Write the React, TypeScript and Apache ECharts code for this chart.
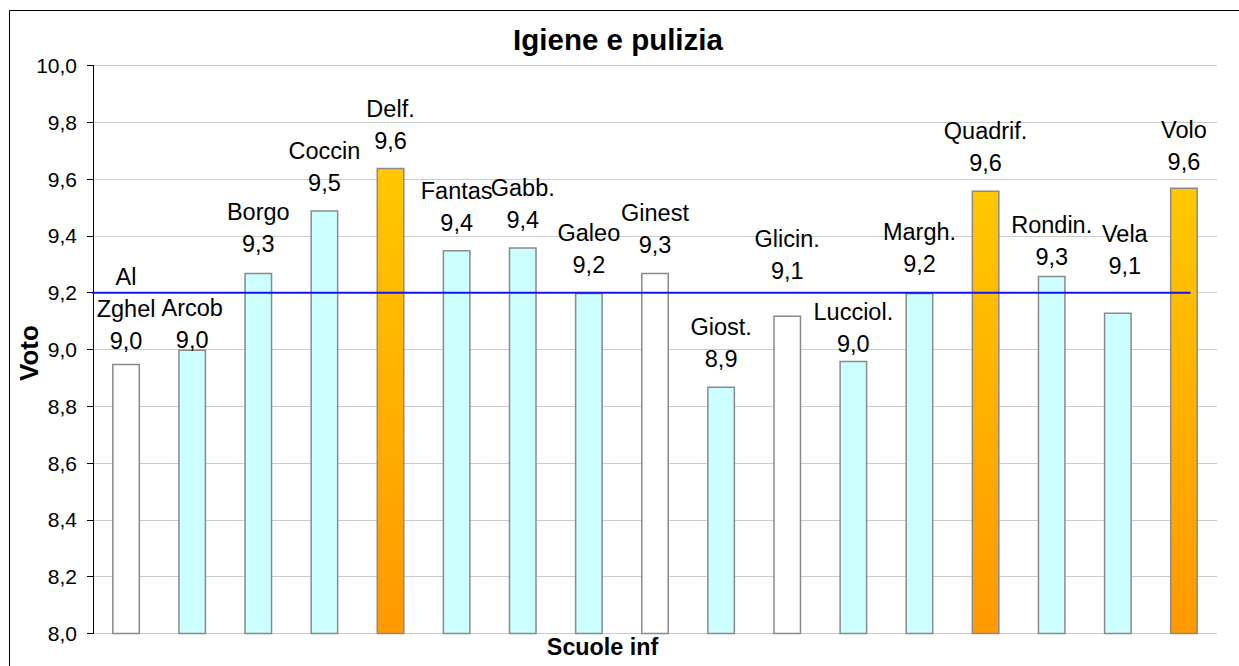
import React, { useEffect, useRef } from 'react';
import * as echarts from 'echarts';

// ---------- data ----------
const CATEGORIES = ['Al Zghel', 'Arcob', 'Borgo', 'Coccin', 'Delf.', 'Fantas', 'Gabb.', 'Galeo', 'Ginest', 'Giost.', 'Glicin.', 'Lucciol.', 'Margh.', 'Quadrif.', 'Rondin.', 'Vela', 'Volo'];
const VALUES = [8.95, 9.0, 9.27, 9.49, 9.64, 9.35, 9.36, 9.2, 9.27, 8.87, 9.12, 8.96, 9.2, 9.56, 9.26, 9.13, 9.57];
const BAR_GROUP = ['white', 'cyan', 'cyan', 'cyan', 'orange', 'cyan', 'cyan', 'cyan', 'white', 'cyan', 'white', 'cyan', 'cyan', 'orange', 'cyan', 'cyan', 'orange'];
const AVERAGE = 9.2;
const AVERAGE_SPAN = [-0.59, 16.1];
const Y_MIN = 8;
const Y_MAX = 10;
const Y_STEP = 0.2;

const TITLE = 'Igiene e pulizia';
const X_NAME = 'Scuole inf';
const Y_NAME = 'Voto';

// ---------- style ----------
const FONT = '"Liberation Sans", Arial, sans-serif';
const LABEL_DISTANCE = [7, -6, 13, 11, 11, 11.5, 11.7, 11.3, 12, 11.3, 28, 1.3, 12.3, 11.4, 2.5, 31, 10];
const LABEL_SHIFT_X = [0, 0, 0, 0, 0, 0, 0, 0, 0, 0, 0, 0, 0, 0, 0, 7, 0];

function fmt(v: number): string {
  return (Math.round(v * 10 + 1e-6) / 10).toFixed(1).replace('.', ',');
}

export default function App() {
  const ref = useRef<HTMLDivElement>(null);
  useEffect(() => {
    document.body.style.margin = '0';
    const chart = echarts.init(ref.current as HTMLDivElement, null, { renderer: 'svg' });
    const fills: Record<string, any> = {
      white: '#ffffff',
      cyan: '#ccffff',
      orange: new echarts.graphic.LinearGradient(0, 0, 0, 1, [
        { offset: 0, color: '#ffc800' },
        { offset: 1, color: '#ff9900' },
      ]),
    };
    chart.setOption({
      animation: false,
      backgroundColor: '#ffffff',
      grid: { left: 93, top: 65.5, width: 1124, height: 568 },
      xAxis: [
        {
          type: 'category',
          data: CATEGORIES,
          axisLine: { show: false, onZero: false },
          axisTick: { show: false },
          axisLabel: { show: false },
          splitLine: { show: false },
        },
        {
          type: 'value',
          min: -0.5,
          max: CATEGORIES.length - 0.5,
          show: false,
          axisLine: { show: false, onZero: false },
          splitLine: { show: false },
        },
      ],
      yAxis: {
        type: 'value',
        min: Y_MIN,
        max: Y_MAX,
        interval: Y_STEP,
        axisLine: { show: true, onZero: false, lineStyle: { color: '#000000', width: 1 } },
        axisTick: { show: true, length: 6, lineStyle: { color: '#000000' } },
        axisLabel: { color: '#000000', fontSize: 21, fontFamily: FONT, margin: 16, formatter: (v: number) => fmt(v) },
        splitLine: { show: true, lineStyle: { color: '#cccccc', width: 1 } },
      },
      series: [
        {
          type: 'bar',
          barWidth: 28,
          z: 2,
          data: VALUES.map((v, i) => ({
            value: v,
            itemStyle: { color: fills[BAR_GROUP[i]], borderColor: '#8a8a8a', borderWidth: 1.5 },
            label: { distance: LABEL_DISTANCE[i], offset: [LABEL_SHIFT_X[i], 0] },
          })),
          label: {
            show: true,
            position: 'top',
            formatter: (p: any) => `${String(p.name).replace(' ', '\n')}\n${fmt(p.value)}`,
            fontSize: 23.5,
            lineHeight: 32,
            color: '#000000',
            fontFamily: FONT,
          },
        },
        {
          type: 'line',
          xAxisIndex: 1,
          data: AVERAGE_SPAN.map((x) => [x, AVERAGE]),
          symbol: 'none',
          clip: false,
          z: 3,
          lineStyle: { color: '#1414f0', width: 2 },
        },
      ],
      graphic: [
        {
          type: 'rect',
          silent: true,
          z: -1,
          shape: { x: 9.5, y: 10.5, width: 1300, height: 700 },
          style: { fill: 'none', stroke: '#000000', lineWidth: 1 },
        },
        {
          type: 'text',
          x: 618,
          y: 39,
          style: {
            text: TITLE, fontSize: 29.5, fontWeight: 'bold', fontFamily: FONT, fill: '#000000',
            align: 'center', verticalAlign: 'middle', textAlign: 'center', textVerticalAlign: 'middle',
          },
        },
        {
          type: 'text',
          x: 602.5,
          y: 647,
          style: {
            text: X_NAME, fontSize: 23.3, fontWeight: 'bold', fontFamily: FONT, fill: '#000000',
            align: 'center', verticalAlign: 'middle', textAlign: 'center', textVerticalAlign: 'middle',
          },
        },
        {
          type: 'text',
          x: 29,
          y: 353,
          rotation: Math.PI / 2,
          style: {
            text: Y_NAME, fontSize: 26, fontWeight: 'bold', fontFamily: FONT, fill: '#000000',
            align: 'center', verticalAlign: 'middle', textAlign: 'center', textVerticalAlign: 'middle',
          },
        },
      ],
    });
    return () => chart.dispose();
  }, []);
  return <div ref={ref} style={{ position: 'fixed', left: 0, top: 0, width: 1239, height: 666, background: '#fff' }} />;
}
